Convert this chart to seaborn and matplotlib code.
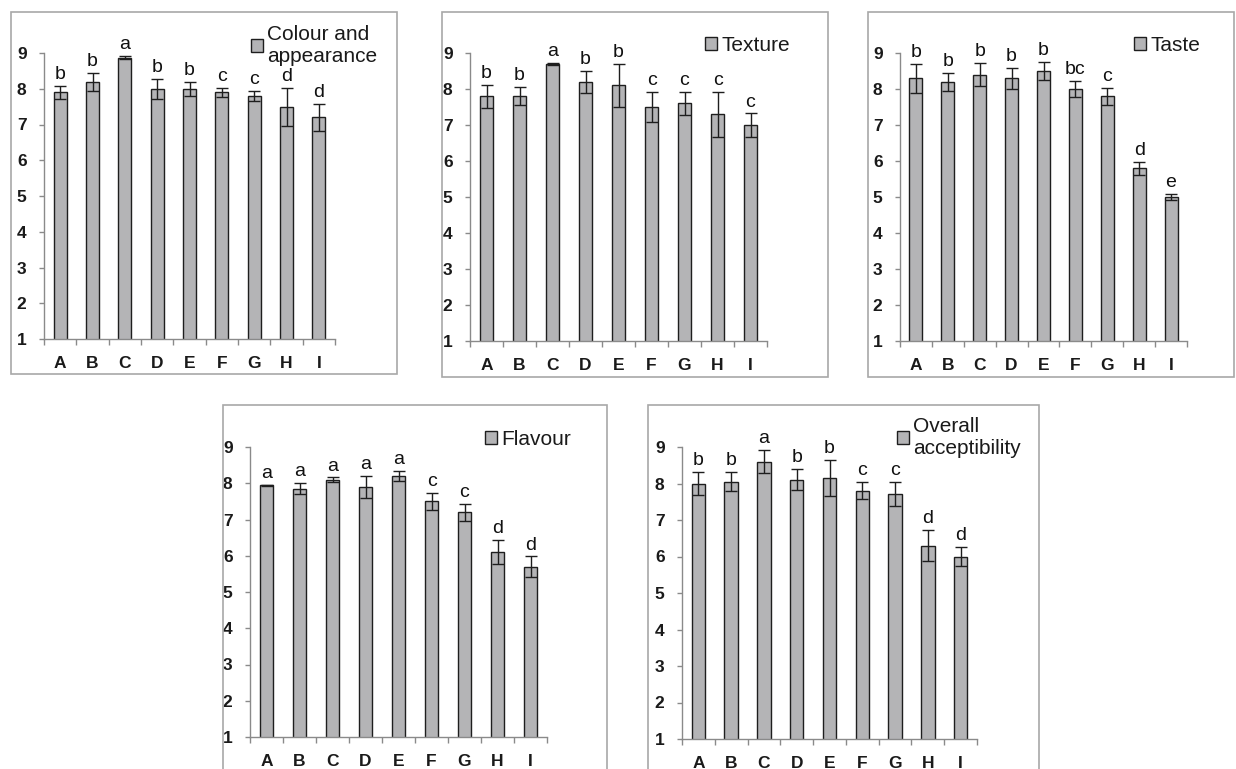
import matplotlib
matplotlib.use("Agg")
import matplotlib.pyplot as plt
from matplotlib.patches import Rectangle
import seaborn as sns

sns.set_style("white")
plt.rcParams["font.family"] = ["Liberation Sans", "DejaVu Sans"]
plt.rcParams["xtick.labelsize"] = 12.5
plt.rcParams["ytick.labelsize"] = 12.5
plt.rcParams["font.weight"] = "bold"

# Sensory scores (9-point hedonic scale) for formulations A-I
samples = ["A", "B", "C", "D", "E", "F", "G", "H", "I"]

colour_mean = [7.9, 8.2, 8.87, 8.0, 8.0, 7.9, 7.8, 7.5, 7.2]
colour_err = [0.18, 0.25, 0.05, 0.28, 0.2, 0.13, 0.13, 0.53, 0.37]
colour_sig = ["b", "b", "a", "b", "b", "c", "c", "d", "d"]

texture_mean = [7.8, 7.8, 8.7, 8.2, 8.1, 7.5, 7.6, 7.3, 7.0]
texture_err = [0.32, 0.25, 0.02, 0.3, 0.6, 0.42, 0.33, 0.62, 0.32]
texture_sig = ["b", "b", "a", "b", "b", "c", "c", "c", "c"]

taste_mean = [8.3, 8.2, 8.4, 8.3, 8.5, 8.0, 7.8, 5.8, 5.0]
taste_err = [0.4, 0.25, 0.32, 0.29, 0.25, 0.23, 0.24, 0.18, 0.08]
taste_sig = ["b", "b", "b", "b", "b", "bc", "c", "d", "e"]

flavour_mean = [7.94, 7.85, 8.1, 7.9, 8.2, 7.5, 7.2, 6.1, 5.7]
flavour_err = [0.01, 0.16, 0.06, 0.3, 0.15, 0.23, 0.24, 0.33, 0.28]
flavour_sig = ["a", "a", "a", "a", "a", "c", "c", "d", "d"]

overall_mean = [8.0, 8.05, 8.6, 8.1, 8.15, 7.8, 7.7, 6.3, 6.0]
overall_err = [0.32, 0.26, 0.32, 0.29, 0.49, 0.23, 0.33, 0.43, 0.27]
overall_sig = ["b", "b", "a", "b", "b", "c", "c", "d", "d"]

W, H = 1236, 769
fig = plt.figure(figsize=(W / 100, H / 100), dpi=100)

BAR = "#b4b4b6"
EDGE = "#1e1e1e"
SPINE = "#8a8a8a"
FRAME = "#a8a8a8"
TXT = "#1a1a1a"


def fbox(left, top, right, bottom):
    return [left / W, 1 - bottom / H, (right - left) / W, (bottom - top) / H]


panels = [
    # (label, means, errors, letters, axes px box, frame px box, legend anchor px)
    ("Colour and\nappearance", colour_mean, colour_err, colour_sig,
     (44, 53, 335, 339), (11, 12, 397, 374), (251, 25)),
    ("Texture", texture_mean, texture_err, texture_sig,
     (470, 53, 767, 341), (442, 12, 828, 377), (705, 36)),
    ("Taste", taste_mean, taste_err, taste_sig,
     (900, 53, 1187, 341), (868, 12, 1234, 377), (1134, 36)),
    ("Flavour", flavour_mean, flavour_err, flavour_sig,
     (250, 447, 547, 737), (223, 405, 607, 800), (485, 430)),
    ("Overall\nacceptibility", overall_mean, overall_err, overall_sig,
     (682, 447, 977, 739), (648, 405, 1039, 800), (897, 417)),
]

for label, means, errs, sig, abox, frame, leg in panels:
    # light grey frame around each chart
    fl, ft, fr, fb = frame
    fig.patches.append(Rectangle((fl / W, 1 - fb / H), (fr - fl) / W, (fb - ft) / H,
                                 transform=fig.transFigure, fill=False,
                                 edgecolor=FRAME, linewidth=1.2, zorder=0))

    ax = fig.add_axes(fbox(*abox))
    ax.patch.set_alpha(0)
    sns.barplot(x=samples, y=means, color=BAR, edgecolor=EDGE, linewidth=1.0,
                width=0.41, saturation=1, ax=ax, label=label.replace("\n", " "))
    for p in ax.patches:
        p.set_facecolor(BAR)
    ax.errorbar(range(len(samples)), means, yerr=errs, fmt="none",
                ecolor=EDGE, elinewidth=1.0, capsize=4, capthick=1.0, zorder=5)
    for i, (m, e, s) in enumerate(zip(means, errs, sig)):
        ax.text(i, m + e + 0.08, s, ha="center", va="bottom", fontsize=14,
                fontweight="normal", color="#111111", clip_on=False)

    ax.set_xlim(-0.5, len(samples) - 0.5)
    ax.set_ylim(1, 9)
    ax.set_yticks(range(1, 10))
    ax.set_xticks(range(len(samples)))
    ax.set_xticklabels(samples)
    ax.set_xticks([k - 0.5 for k in range(len(samples) + 1)], minor=True)
    ax.tick_params(axis="x", which="major", length=0, pad=12.5, labelcolor=TXT)
    ax.tick_params(axis="x", which="minor", length=4, width=1, color=SPINE,
                   direction="out", bottom=True)
    ax.tick_params(axis="y", which="major", length=3.6, width=1, color=SPINE,
                   direction="out", left=True, pad=9, labelcolor=TXT)
    for side in ("top", "right"):
        ax.spines[side].set_visible(False)
    for side in ("left", "bottom"):
        ax.spines[side].set_color(SPINE)
        ax.spines[side].set_linewidth(1.0)
    ax.set_xlabel("")
    ax.set_ylabel("")

    handles, _ = ax.get_legend_handles_labels()
    lx, ly = leg
    ax.legend(handles[:1], [label], loc="upper left",
              bbox_to_anchor=(lx / W, 1 - ly / H), bbox_transform=fig.transFigure,
              frameon=False, prop={"size": 15, "weight": "normal"},
              handlelength=0.58, handleheight=0.58,
              handletextpad=0.2, borderpad=0, borderaxespad=0, labelspacing=0.1,
              labelcolor=TXT)

fig.savefig("out.png", dpi=100)
